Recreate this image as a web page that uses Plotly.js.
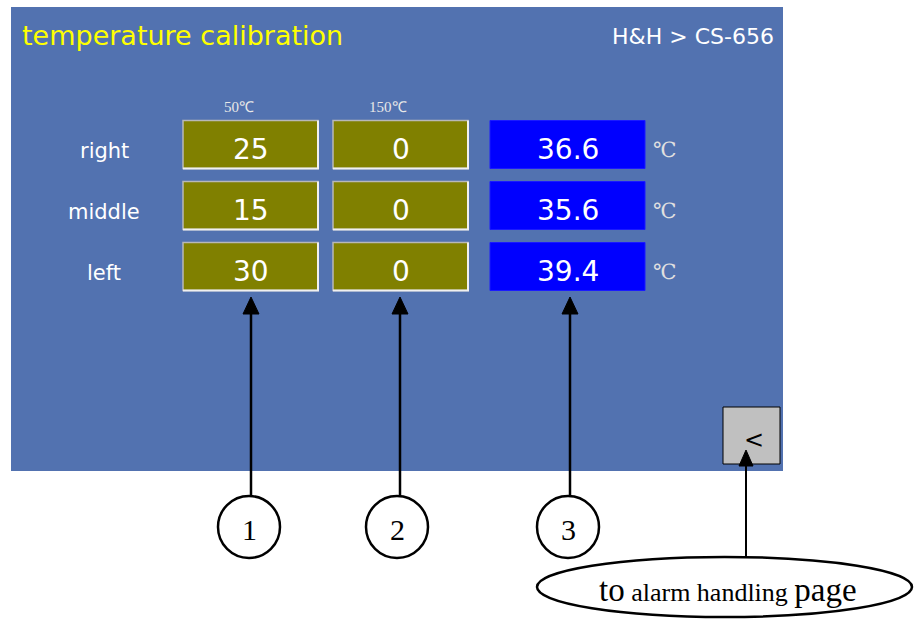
<!DOCTYPE html>
<html><head><meta charset="utf-8">
<script src="https://cdn.plot.ly/plotly-3.0.1.min.js"></script>
<style>html,body{margin:0;padding:0;background:#fff}#chart{width:914px;height:619px}</style>
</head><body><div id="chart"></div>
<script>
// ---- data ----
const rowLabels = ["right", "middle", "left"];
const setpoint50 = [25, 15, 30];
const setpoint150 = [0, 0, 0];
const measured = [36.6, 35.6, 39.4];
const columnHeaders = ["50℃", "150℃"];
const calloutLabels = ["1", "2", "3"];
const titleText = "temperature calibration";
const breadcrumb = "H&H > CS-656";
const unitLabel = "℃";

// ---- layout geometry (pixel-space axes) ----
const rowY = [144.5, 205.5, 266.5];
const rowH = 48;
const cols = [{x0:183, x1:318}, {x0:333, x1:468}, {x0:490, x1:645}];
const panelBlue = "#5272b0";
const sans = "DejaVu Sans, Verdana, sans-serif";
const serif = "Liberation Serif, Times New Roman, serif";

const shapes = [];
const ann = [];

// panel
shapes.push({type:"rect", x0:11, x1:783, y0:7, y1:471, fillcolor:panelBlue, line:{width:0}, layer:"below"});

// cells
const colData = [setpoint50, setpoint150, measured];
colData.forEach((vals, ci) => {
  const c = cols[ci];
  vals.forEach((v, ri) => {
    const y0 = rowY[ri] - rowH/2, y1 = rowY[ri] + rowH/2;
    if (ci < 2) {
      shapes.push({type:"rect", x0:c.x0, x1:c.x1, y0:y0, y1:y1, fillcolor:"#808000", line:{color:"#b8b8b8", width:1.5}});
      shapes.push({type:"path", path:`M${c.x0},${y1} L${c.x1},${y1} L${c.x1},${y0}`, line:{color:"#f0f0f0", width:2}});
    } else {
      shapes.push({type:"rect", x0:c.x0, x1:c.x1, y0:y0, y1:y1, fillcolor:"#0000ff", line:{color:"#1a1aff", width:1}});
    }
    ann.push({x:(c.x0+c.x1)/2, y:rowY[ri]+5, text:String(v), showarrow:false,
      font:{family:sans, size:28, color:"#ffffff"}, xanchor:"center", yanchor:"middle"});
  });
});

// row labels
rowLabels.forEach((t, ri) => {
  ann.push({x:104, y:rowY[ri]+6, text:t, showarrow:false, font:{family:sans, size:21, color:"#ffffff"}, xanchor:"center", yanchor:"middle"});
  ann.push({x:665, y:rowY[ri]+5, text:unitLabel, showarrow:false, font:{family:"DejaVu Serif, serif", size:21, color:"#e0e0e0"}, xanchor:"center", yanchor:"middle"});
});

// column headers
columnHeaders.forEach((t, i) => {
  ann.push({x:[239, 388][i], y:107, text:t, showarrow:false, font:{family:serif, size:15, color:"#e8e8e8"}, xanchor:"center", yanchor:"middle"});
});

// title + breadcrumb
ann.push({x:20, y:35, text:titleText, showarrow:false, font:{family:sans, size:27, color:"#ffff00"}, xanchor:"left", yanchor:"middle"});
ann.push({x:776, y:36, text:breadcrumb, showarrow:false, font:{family:sans, size:22, color:"#ffffff"}, xanchor:"right", yanchor:"middle"});

// callouts with arrows
const calloutX = [251, 400, 570];
const circleX = [249, 397, 568];
calloutLabels.forEach((t, i) => {
  const x = calloutX[i];
  shapes.push({type:"line", x0:x, x1:x, y0:496, y1:312, line:{color:"#000", width:2.5}});
  shapes.push({type:"path", path:`M${x},297 L${x-8},314 L${x+8},314 Z`, fillcolor:"#000", line:{color:"#000", width:1}});
  shapes.push({type:"circle", x0:circleX[i]-31, x1:circleX[i]+31, y0:496, y1:558, fillcolor:"#fff", line:{color:"#000", width:2.5}});
  ann.push({x:circleX[i], y:529, text:t, showarrow:false, font:{family:serif, size:30, color:"#000"}, xanchor:"center", yanchor:"middle"});
});

// back button
shapes.push({type:"rect", x0:723, x1:780, y0:407, y1:464, fillcolor:"#c0c0c0", line:{color:"#000", width:1}});
ann.push({x:754, y:440, text:"&lt;", showarrow:false, font:{family:sans, size:24, color:"#000"}, xanchor:"center", yanchor:"middle"});
shapes.push({type:"line", x0:746, x1:746, y0:557, y1:464, line:{color:"#000", width:2}});
shapes.push({type:"path", path:`M746,450 L739,466 L753,466 Z`, fillcolor:"#000", line:{color:"#000", width:1}});

// ellipse note
shapes.push({type:"circle", x0:537, x1:912, y0:557, y1:617, fillcolor:"#fff", line:{color:"#000", width:2.5}});
ann.push({x:728, y:590, text:"<span style='font-size:33px'>to</span> alarm handling <span style='font-size:33px'>page</span>", showarrow:false,
  font:{family:serif, size:26, color:"#000"}, xanchor:"center", yanchor:"middle"});

const layout = {
  width:914, height:619, margin:{l:0, r:0, t:0, b:0},
  paper_bgcolor:"#ffffff", plot_bgcolor:"#ffffff",
  xaxis:{range:[0,914], visible:false, fixedrange:true},
  yaxis:{range:[619,0], visible:false, fixedrange:true},
  shapes:shapes, annotations:ann, showlegend:false
};
Plotly.newPlot("chart", [{x:[], y:[], type:"scatter", mode:"markers", hoverinfo:"skip"}], layout, {displayModeBar:false, staticPlot:true});
</script></body></html>
